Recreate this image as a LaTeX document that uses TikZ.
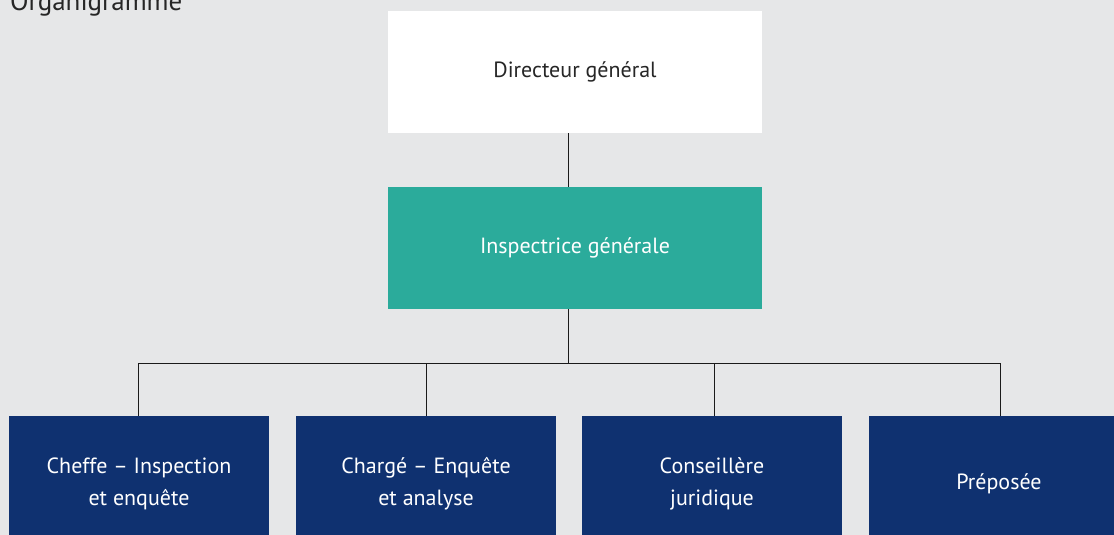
\documentclass[tikz,border=0pt]{standalone}
\usepackage{fontspec}
\setmainfont{PT Sans}
\usepackage{tikz}
\usetikzlibrary{positioning,calc}
\definecolor{orgBack}{HTML}{E6E7E8}
\definecolor{orgTeal}{HTML}{2BAB9B}
\definecolor{orgNavy}{HTML}{0F3170}
\definecolor{orgLine}{HTML}{1A1A1A}

\begin{document}
\begin{tikzpicture}[
        x=1pt, y=-1pt,
        head/.style={fill=white, minimum width=374pt, minimum height=122pt,
          outer sep=0pt, inner sep=0pt, align=center, text=black!85,
          font=\fontsize{22}{32}\selectfont},
        inspect/.style={head, fill=orgTeal, text=white},
        unit/.style={fill=orgNavy, minimum width=260pt, minimum height=136pt,
          outer sep=0pt, inner sep=0pt, align=center, text=white,
          font=\fontsize{22}{32}\selectfont},
        link/.style={draw=orgLine, line width=0.9pt}
      ]
        \clip (0,0) rectangle (1114,535);
        \fill[orgBack] (0,0) rectangle (1114,535);

        % Title (cut by the top edge)
        \node[anchor=base west, inner sep=0pt, font=\fontsize{27}{30}\selectfont,
          text=black!85] (title) at (10,11) {Organigramme};

        \node[head] (dg) at (575,72) {Directeur général};
        \node[inspect] (ig) at (575,248) {Inspectrice générale};

        % Units
        \node[unit] (cie) at (139,484) {Cheffe -- Inspection\\et enquête};
        \node[unit] (cea) at (426,484) {Chargé -- Enquête\\et analyse};
        \node[unit] (cj) at (712,484) {Conseillère\\juridique};
        \node[unit] (prep) at (999,484) {Préposée};

        \coordinate (bus) at (568,363);
        \draw[link] (dg.south -| bus) -- (ig.north -| bus);
        \draw[link] (ig.south -| bus) -- (bus);
        \draw[link] (bus) -| ([xshift=-1pt]cie.north);
        \draw[link] (bus) -| (cea.north);
        \draw[link] (bus) -| ([xshift=2pt]cj.north);
        \draw[link] (bus) -| ([xshift=1pt]prep.north);
      \end{tikzpicture}
\end{document}
